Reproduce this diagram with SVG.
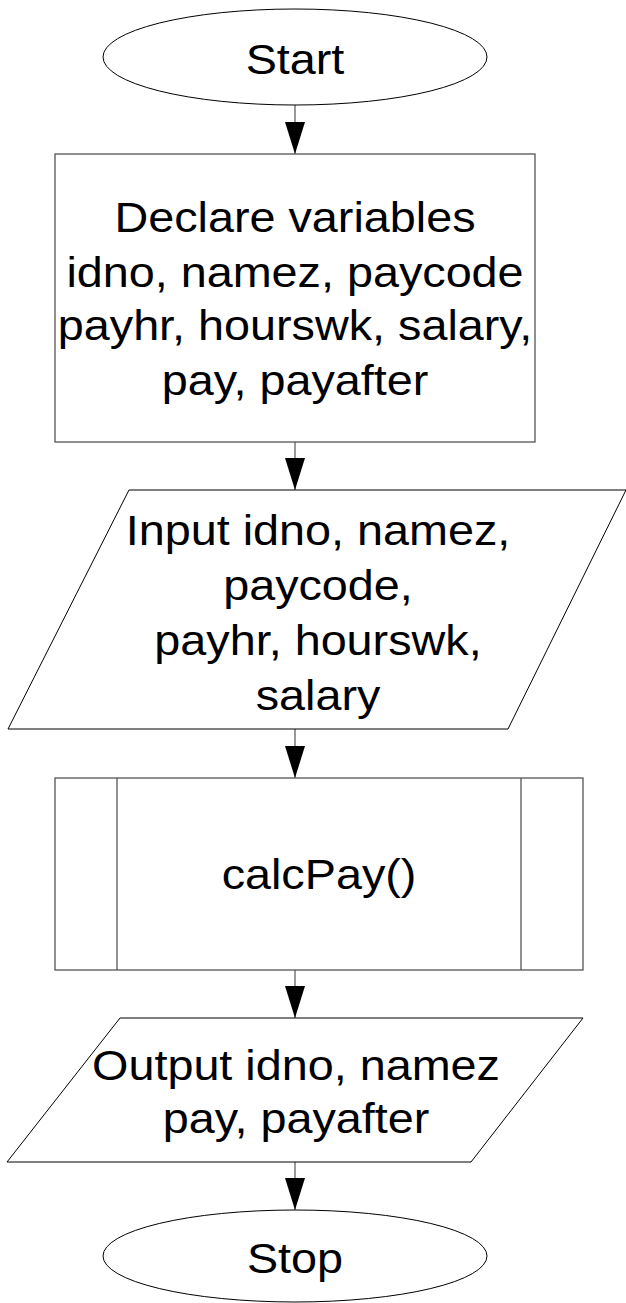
<svg xmlns="http://www.w3.org/2000/svg" width="626" height="1303" viewBox="0 0 626 1303">
  <style>
    .term { fill: #ffffff; stroke: #000000; stroke-width: 1; }
    .box { fill: #ffffff; stroke: #555555; stroke-width: 1.3; }
    .io { fill: #ffffff; stroke: #000000; stroke-width: 1; }
    .lbl { font-family: "Liberation Sans", Arial, sans-serif; font-size: 42.5px; fill: #000000; text-anchor: middle; }
    .conn { stroke: #555555; stroke-width: 1.2; fill: none; marker-end: url(#arrow); }
  </style>
  <defs>
    <marker id="arrow" markerUnits="userSpaceOnUse" viewBox="0 0 32 20" markerWidth="32" markerHeight="20" refX="32" refY="10" orient="auto">
      <path d="M0,0 L32,10 L0,20 Z" fill="#000000"/>
    </marker>
  </defs>
  <rect width="626" height="1303" fill="#ffffff"/>

  <g id="connectors">
    <line class="conn" x1="295" y1="105" x2="295" y2="154"/>
    <line class="conn" x1="295" y1="442" x2="295" y2="490"/>
    <line class="conn" x1="295" y1="729" x2="295" y2="778"/>
    <line class="conn" x1="295" y1="970" x2="295" y2="1018"/>
    <line class="conn" x1="295" y1="1162" x2="295" y2="1210"/>
  </g>

  <g id="start">
    <ellipse class="term" cx="295" cy="57" rx="192" ry="48"/>
    <g transform="translate(295,0) scale(1.1,1)">
      <text class="lbl" x="0" y="74">Start</text>
    </g>
  </g>

  <g id="declare">
    <rect class="box" x="55" y="154" width="480" height="288"/>
    <g transform="translate(295,0) scale(1.1,1)">
      <text class="lbl" x="0" y="232">Declare variables</text>
      <text class="lbl" x="0" y="287">idno, namez, paycode</text>
      <text class="lbl" x="0" y="340">payhr, hourswk, salary,</text>
      <text class="lbl" x="0" y="395">pay, payafter</text>
    </g>
  </g>

  <g id="input">
    <polygon class="io" points="129,490 626,490 508,729 8,729"/>
    <g transform="translate(318,0) scale(1.1,1)">
      <text class="lbl" x="0" y="545">Input idno, namez,</text>
      <text class="lbl" x="0" y="600">paycode,</text>
      <text class="lbl" x="0" y="655">payhr, hourswk,</text>
      <text class="lbl" x="0" y="710">salary</text>
    </g>
  </g>

  <g id="calcpay">
    <rect class="box" x="55" y="778" width="528" height="192"/>
    <line class="box" x1="117" y1="778" x2="117" y2="970"/>
    <line class="box" x1="521" y1="778" x2="521" y2="970"/>
    <g transform="translate(319,0) scale(1.1,1)">
      <text class="lbl" x="0" y="889">calcPay()</text>
    </g>
  </g>

  <g id="output">
    <polygon class="io" points="120,1018 583,1018 471,1162 7,1162"/>
    <g transform="translate(296,0) scale(1.1,1)">
      <text class="lbl" x="0" y="1080">Output idno, namez</text>
      <text class="lbl" x="0" y="1133">pay, payafter</text>
    </g>
  </g>

  <g id="stop">
    <ellipse class="term" cx="295" cy="1256" rx="192" ry="46"/>
    <g transform="translate(295,0) scale(1.1,1)">
      <text class="lbl" x="0" y="1273">Stop</text>
    </g>
  </g>
</svg>
